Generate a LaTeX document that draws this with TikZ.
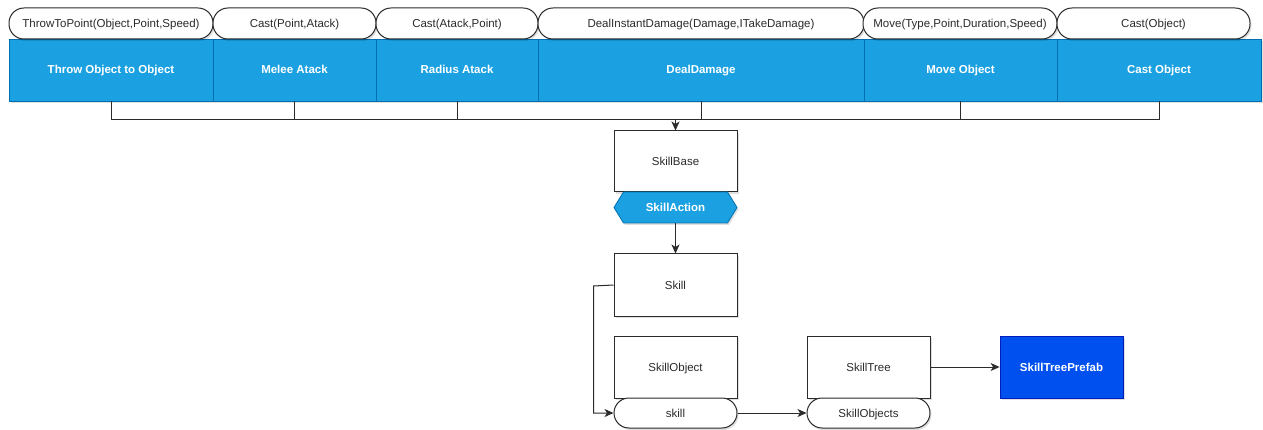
\documentclass[tikz,border=0pt]{standalone}
\usepackage{fontspec}
\setmainfont{Liberation Sans}
\usetikzlibrary{arrows.meta,shadows}
\definecolor{actfill}{HTML}{1BA1E2}
\definecolor{actline}{HTML}{006EAF}
\definecolor{prefabfill}{HTML}{0050EF}
\definecolor{prefabline}{HTML}{001DBC}
\definecolor{ink}{HTML}{2B2B2B}
\tikzset{
  soft/.style={drop shadow={shadow xshift=1.5pt,shadow yshift=-2pt,opacity=0.12,fill=black}},
  txt/.style={font=\fontsize{11.5}{13}\selectfont,text height=10.2pt,text depth=2.2pt},
  sig/.style={draw=ink,line width=1pt,fill=white,rounded corners=15pt,minimum height=31pt,
    inner sep=0pt,txt,text=ink,soft},
  action/.style={draw=actline,line width=0.8pt,fill=actfill,minimum height=62pt,inner sep=0pt,
    txt,font=\fontsize{11.5}{13}\selectfont\bfseries,text=white,soft},
  cls/.style={draw=ink,line width=1pt,fill=white,minimum width=123pt,minimum height=62pt,
    inner sep=0pt,txt,text=ink,soft},
  field/.style={draw=ink,line width=1pt,fill=white,rounded corners=15pt,minimum width=123pt,
    minimum height=30pt,inner sep=0pt,txt,text=ink,soft},
  prefab/.style={draw=prefabline,line width=0.8pt,fill=prefabfill,minimum width=123pt,minimum height=62pt,
    inner sep=0pt,txt,font=\fontsize{11.5}{13}\selectfont\bfseries,text=white,soft},
  wire/.style={draw=ink,line width=1pt},
  arrow/.style={wire,-{Stealth[length=9pt,width=8pt,inset=2.5pt]}},
}
\begin{document}
\begin{tikzpicture}[x=1pt,y=-1pt]
\path[use as bounding box,fill=white] (0,0) rectangle (1263,430);

% action bar
\node[action,minimum width=204pt] (b1) at (111,70) {Throw Object to Object};
\node[action,minimum width=163pt] (b2) at (294.5,70) {Melee Atack};
\node[action,minimum width=162pt] (b3) at (457,70) {Radius Atack};
\node[action,minimum width=326pt] (b4) at (701,70) {DealDamage};
\node[action,minimum width=193pt] (b5) at (960.5,70) {Move Object};
\node[action,minimum width=204pt] (b6) at (1159,70) {Cast Object};

% signatures above the actions
\node[sig,minimum width=204pt] (p1) at (111,23.5) {ThrowToPoint(Object,Point,Speed)};
\node[sig,minimum width=163pt] (p2) at (294.5,23.5) {Cast(Point,Atack)};
\node[sig,minimum width=162pt] (p3) at (457,23.5) {Cast(Atack,Point)};
\node[sig,minimum width=326pt] (p4) at (701,23.5) {DealInstantDamage(Damage,ITakeDamage)};
\node[sig,minimum width=194pt] (p5) at (960,23.5) {Move(Type,Point,Duration,Speed)};
\node[sig,minimum width=193pt] (p6) at (1153.5,23.5) {Cast(Object)};

% class hierarchy
\node[cls,minimum height=61pt] (base) at (675.5,161.5) {SkillBase};
\path[fill=actfill,draw=actline,line width=0.8pt,soft]
  (614,207.5) -- (623.5,192) -- (727.5,192) -- (737,207.5) -- (727.5,223) -- (623.5,223) -- cycle;
\node[minimum width=123pt,minimum height=31pt,inner sep=0pt,txt,text=white,
  font=\fontsize{11.5}{13}\selectfont\bfseries] (act) at (675.5,207.5) {SkillAction};
\node[cls] (skill) at (675.5,285) {Skill};
\node[cls] (sobj) at (675.5,367) {SkillObject};
\node[field] (sfield) at (675.5,413) {skill};
\node[cls] (tree) at (868.5,367) {SkillTree};
\node[field] (tfield) at (868.5,413) {SkillObjects};
\node[prefab] (prefab) at (1061.5,367) {SkillTreePrefab};

% bus from the actions into SkillBase
\coordinate (bus) at (675.5,120);
\foreach \b in {b1,b2,b3,b4,b5,b6}{
  \draw[wire] (\b.south) |- (bus);
}
\draw[arrow] (bus) -- (base.north);

\draw[arrow] (act.south) -- (skill.north);
\draw[arrow] (skill.west) -- ++(-20,1) |- (sfield.west);
\draw[arrow] (sfield.east) -- (tfield.west);
\draw[arrow] (tree.east) -- (prefab.west);
\end{tikzpicture}
\end{document}
